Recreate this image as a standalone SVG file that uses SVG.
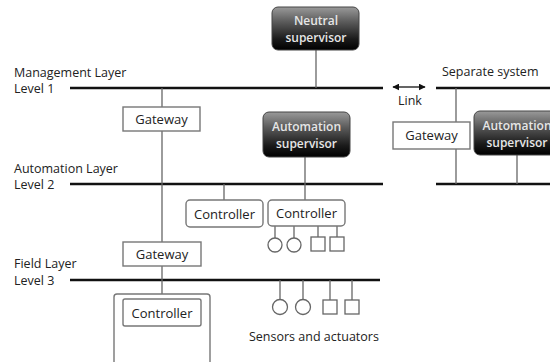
<svg xmlns="http://www.w3.org/2000/svg" width="550" height="362" viewBox="0 0 550 362">
  <style>
    .bus { stroke: #111; stroke-width: 2.5; fill: none; }
    .stem { stroke: #666; stroke-width: 1.3; fill: none; }
    .box { fill: #fff; stroke: #777; stroke-width: 1.4; }
    .dev { fill: #fff; stroke: #666; stroke-width: 1.3; }
    .sup { fill: url(#supGrad); stroke: #444; stroke-width: 1; }
    .lbl { font-family: "Open Sans", "Liberation Sans", sans-serif; font-size: 12.5px; fill: #222; }
    .ctr { font-family: "Open Sans", "Liberation Sans", sans-serif; font-size: 13px; fill: #222; text-anchor: middle; }
    .wht { font-family: "Open Sans", "Liberation Sans", sans-serif; font-size: 12px; fill: #e6e6e6; text-anchor: middle; font-weight: 600; }
  </style>
  <defs>
    <linearGradient id="supGrad" x1="0" y1="0" x2="0" y2="1">
      <stop offset="0" stop-color="#9a9a9a"/>
      <stop offset="0.35" stop-color="#5a5a5a"/>
      <stop offset="0.75" stop-color="#1a1a1a"/>
      <stop offset="1" stop-color="#000"/>
    </linearGradient>
    <marker id="arr" viewBox="0 0 10 10" refX="9" refY="5" markerWidth="7" markerHeight="7" orient="auto-start-reverse" markerUnits="userSpaceOnUse">
      <path d="M0,0 L10,5 L0,10 z" fill="#111"/>
    </marker>
  </defs>

  <rect width="550" height="362" fill="#fff"/>

  <!-- layer labels -->
  <text class="lbl" x="14" y="77">Management Layer</text>
  <text class="lbl" x="14" y="93">Level 1</text>
  <text class="lbl" x="14" y="173">Automation Layer</text>
  <text class="lbl" x="14" y="189">Level 2</text>
  <text class="lbl" x="14" y="268">Field Layer</text>
  <text class="lbl" x="14" y="285">Level 3</text>
  <text class="lbl" x="442" y="76">Separate system</text>
  <text class="lbl" x="398" y="105">Link</text>
  <text class="lbl" x="249" y="341">Sensors and actuators</text>

  <g id="connectors">
    <!-- buses -->
    <line class="bus" x1="70" y1="88" x2="383" y2="88"/>
    <line class="bus" x1="436" y1="88" x2="550" y2="88"/>
    <line class="bus" x1="70" y1="184" x2="383" y2="184"/>
    <line class="bus" x1="436" y1="184" x2="550" y2="184"/>
    <line class="bus" x1="70" y1="280" x2="380" y2="280"/>
    <!-- link -->
    <line x1="393" y1="87" x2="425" y2="87" stroke="#111" stroke-width="1.3" marker-start="url(#arr)" marker-end="url(#arr)"/>
    <!-- stems -->
    <line class="stem" x1="316" y1="50" x2="316" y2="88"/>
    <line class="stem" x1="162" y1="88" x2="162" y2="294"/>
    <line class="stem" x1="305" y1="157" x2="305" y2="200"/>
    <line class="stem" x1="224" y1="184" x2="224" y2="200"/>
    <line class="stem" x1="456" y1="88" x2="456" y2="184"/>
    <line class="stem" x1="517" y1="155" x2="517" y2="184"/>
    <!-- controller devices -->
    <line class="stem" x1="275" y1="226" x2="275" y2="238"/>
    <line class="stem" x1="294" y1="226" x2="294" y2="238"/>
    <line class="stem" x1="318" y1="226" x2="318" y2="237"/>
    <line class="stem" x1="337" y1="226" x2="337" y2="237"/>
    <!-- field devices -->
    <line class="stem" x1="280" y1="280" x2="280" y2="299"/>
    <line class="stem" x1="303" y1="280" x2="303" y2="299"/>
    <line class="stem" x1="330" y1="280" x2="330" y2="300"/>
    <line class="stem" x1="352" y1="280" x2="352" y2="300"/>
  </g>

  <g id="neutral-supervisor">
    <rect class="sup" x="272" y="7" width="87" height="43" rx="6"/>
    <text class="wht" x="316" y="25">Neutral</text>
    <text class="wht" x="316" y="42">supervisor</text>
  </g>

  <g id="gateway-1">
    <rect class="box" x="123" y="107" width="77" height="24"/>
    <text class="ctr" x="161.5" y="124">Gateway</text>
  </g>

  <g id="automation-supervisor">
    <rect class="sup" x="263" y="112" width="87" height="45" rx="6"/>
    <text class="wht" x="306.5" y="131">Automation</text>
    <text class="wht" x="306.5" y="148">supervisor</text>
  </g>

  <g id="gateway-separate">
    <rect class="box" x="393" y="122" width="77" height="27"/>
    <text class="ctr" x="431.5" y="140">Gateway</text>
  </g>

  <g id="automation-supervisor-separate">
    <rect class="sup" x="474" y="111" width="90" height="44" rx="6"/>
    <text class="wht" x="517" y="130">Automation</text>
    <text class="wht" x="517" y="147">supervisor</text>
  </g>

  <g id="controller-1">
    <rect class="box" x="186" y="200" width="77" height="27" rx="4"/>
    <text class="ctr" x="224.5" y="218.5">Controller</text>
  </g>

  <g id="controller-2">
    <rect class="box" x="268" y="200" width="77" height="26" rx="4"/>
    <text class="ctr" x="306.5" y="218">Controller</text>
  </g>

  <g id="controller-2-devices">
    <circle class="dev" cx="275" cy="245" r="7"/>
    <circle class="dev" cx="294" cy="245" r="7"/>
    <rect class="dev" x="311" y="237" width="14" height="14"/>
    <rect class="dev" x="330" y="237" width="14" height="14"/>
  </g>

  <g id="gateway-2">
    <rect class="box" x="123" y="242" width="78" height="24"/>
    <text class="ctr" x="162" y="259">Gateway</text>
  </g>

  <g id="field-unit">
    <rect class="box" x="114" y="294" width="96" height="80" rx="3"/>
    <rect class="box" x="123" y="299" width="78" height="27" rx="2"/>
    <text class="ctr" x="162" y="317.5">Controller</text>
  </g>

  <g id="sensors-actuators">
    <circle class="dev" cx="280" cy="307" r="7.5"/>
    <circle class="dev" cx="303" cy="307" r="7.5"/>
    <rect class="dev" x="323" y="300" width="14" height="14"/>
    <rect class="dev" x="345" y="300" width="14" height="14"/>
  </g>
</svg>
